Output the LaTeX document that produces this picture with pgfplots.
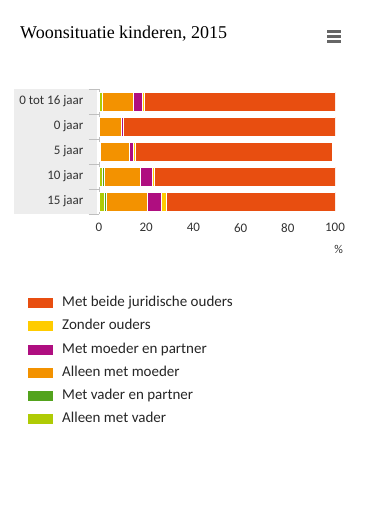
\documentclass[border=0pt]{standalone}
\usepackage{pgfplots}
\pgfplotsset{compat=1.18}
\usepackage{fontspec}
\setmainfont{Carlito}
\newfontfamily\titlefont{Liberation Serif}
\definecolor{cBeide}{HTML}{E84E10}
\definecolor{cZonder}{HTML}{FFCC00}
\definecolor{cMoedP}{HTML}{AF0E80}
\definecolor{cMoed}{HTML}{F39200}
\definecolor{cVadP}{HTML}{53A31D}
\definecolor{cVad}{HTML}{AFCB05}
\definecolor{txt}{HTML}{333333}
\begin{document}
\begin{tikzpicture}[x=1pt,y=1pt]
\useasboundingbox (0,0) rectangle (370,-525);
\fill[white] (0,0) rectangle (370,-525);
\node[anchor=base west, inner sep=0pt, font=\titlefont\fontsize{18}{21}\selectfont] at (20,-38.5) {Woonsituatie kinderen, 2015};
\foreach \yy in {31.5,36.4,41.3} {\fill[black!60] (327,{-\yy-1.4}) rectangle (341,{-\yy+1.4});}
\fill[black!7] (14,-89) rectangle (97,-214);
\begin{axis}[
  at={(99pt,-214pt)}, anchor=south west,
  scale only axis, width=236pt, height=125pt,
  xbar stacked, bar width=19pt,
  xmin=0, xmax=100, ymin=-0.5, ymax=4.5, y dir=reverse,
  ytick={0,...,4},
  yticklabels={0 tot 16 jaar, 0 jaar, 5 jaar, 10 jaar, 15 jaar},
  minor ytick={-0.5,0.5,...,4.5},
  xtick={0,20,...,100},
  major tick length=0pt, minor tick length=10pt,
  tick align=outside,
  minor tick style={black!25, line width=0.8pt},
  axis x line*=bottom, axis y line*=left,
  x axis line style={draw=none},
  y axis line style={black!25, line width=0.8pt},
  tick label style={font=\fontsize{13}{15}\selectfont, text=txt},
  yticklabel style={xshift=-12pt},
  xticklabel style={yshift=-6pt},
  /pgf/number format/assume math mode=true,
  xlabel={\%},
  xlabel style={at={(axis description cs:1.015,0)}, anchor=north, yshift=-28pt, font=\fontsize{12}{14}\selectfont, text=txt},
  every axis plot/.append style={draw=white, line width=0.6pt},
  reverse legend,
  legend image code/.code={\fill[#1, draw=none] (0pt,-5pt) rectangle (25pt,5pt);},
  legend style={at={(axis description cs:-0.3135,-0.645)}, anchor=north west, draw=none, fill=none,
    font=\fontsize{15}{17}\selectfont, text=black!85, row sep=10.1pt, column sep=9pt,
    nodes={inner sep=0pt, text height=10pt, text depth=3pt}, legend cell align=left},
]
\addplot[fill=cVad] coordinates {(1.4,0) (0.1,1) (0.3,2) (1.4,3) (2.3,4)};
\addplot[fill=cVadP] coordinates {(0.2,0) (0.0,1) (0.1,2) (0.7,3) (0.7,4)};
\addplot[fill=cMoed] coordinates {(12.9,0) (9.4,1) (12.3,2) (15.4,3) (17.5,4)};
\addplot[fill=cMoedP] coordinates {(4.0,0) (0.8,1) (1.9,2) (5.2,3) (5.9,4)};
\addplot[fill=cZonder] coordinates {(0.7,0) (0.1,1) (0.9,2) (0.9,3) (2.1,4)};
\addplot[fill=cBeide] coordinates {(80.8,0) (89.6,1) (83.4,2) (76.4,3) (71.5,4)};
\legend{Alleen met vader, Met vader en partner, Alleen met moeder, Met moeder en partner, Zonder ouders, Met beide juridische ouders}
\end{axis}
\end{tikzpicture}
\end{document}
